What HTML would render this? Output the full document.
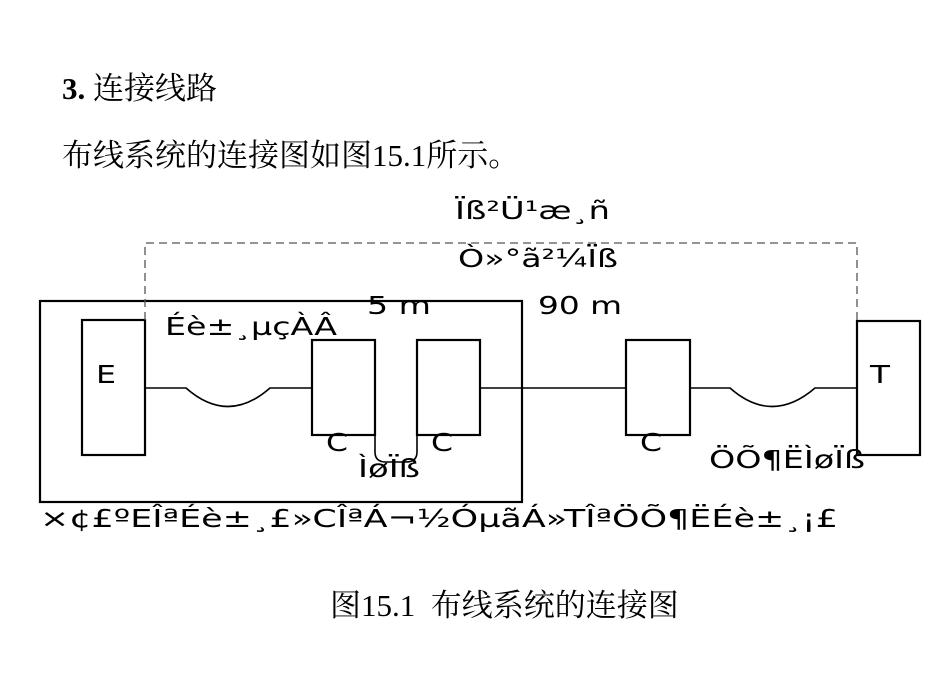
<!DOCTYPE html>
<html><head><meta charset="utf-8"><style>
html,body{margin:0;padding:0;background:#fff;width:950px;height:700px;overflow:hidden}
.t{position:absolute;font-family:"Liberation Serif","Noto Serif CJK SC",serif;font-size:31px;color:#000;white-space:nowrap;line-height:1}
svg text{font-family:"DejaVu Sans","Liberation Sans",sans-serif;font-size:25px}
</style></head><body>
<div class="t" style="left:62px;top:73px"><b>3.</b> 连接线路</div>
<div class="t" style="left:62px;top:140px">布线系统的连接图如图15.1所示。</div>
<div class="t" style="left:330px;top:590px;font-size:31px">图15.1&nbsp; 布线系统的连接图</div>
<svg width="950" height="700" style="position:absolute;left:0;top:0">
<g fill="none" stroke="#000" stroke-width="2.2">
<rect x="40" y="301" width="482" height="201"/>
<rect x="82" y="320" width="63" height="135"/>
<rect x="312" y="340" width="63" height="95"/>
<rect x="417" y="340" width="63" height="95"/>
<rect x="626" y="340" width="64" height="95"/>
<rect x="857" y="321" width="63" height="134"/>
</g>
<g fill="none" stroke="#000" stroke-width="1.6">
<path d="M145 388 H186 Q228 425 270 388 H312"/>
<path d="M480 388 H626"/>
<path d="M690 388 H730 Q772 425 815 388 H857"/>
<path d="M375 435 V452 Q375 462 386 462 H406 Q417 462 417 452 V435"/>
</g>
<path d="M145 320 V243 H857 V320" fill="none" stroke="#555" stroke-width="1.3" stroke-dasharray="8,5"/>
<g fill="#000">
<text x="96" y="383" textLength="20" lengthAdjust="spacingAndGlyphs">E</text>
<text x="870" y="383" textLength="20" lengthAdjust="spacingAndGlyphs">T</text>
<text x="326" y="451" textLength="22" lengthAdjust="spacingAndGlyphs">C</text>
<text x="431" y="451" textLength="22" lengthAdjust="spacingAndGlyphs">C</text>
<text x="640" y="451" textLength="22" lengthAdjust="spacingAndGlyphs">C</text>
<text x="455" y="219" textLength="155" lengthAdjust="spacingAndGlyphs">Ïß²Ü¹æ¸ñ</text>
<text x="458" y="267" textLength="160" lengthAdjust="spacingAndGlyphs">Ò»°ã²¼Ïß</text>
<text x="367" y="314" textLength="64" lengthAdjust="spacingAndGlyphs">5 m</text>
<text x="538" y="314" textLength="84" lengthAdjust="spacingAndGlyphs">90 m</text>
<text x="165" y="335" textLength="172" lengthAdjust="spacingAndGlyphs">Éè±¸µçÀÂ</text>
<text x="358" y="477" textLength="62" lengthAdjust="spacingAndGlyphs">ÌøÏß</text>
<text x="709" y="468" textLength="156" lengthAdjust="spacingAndGlyphs">ÖÕ¶ËÌøÏß</text>
<text x="40" y="527" textLength="798" lengthAdjust="spacingAndGlyphs">×¢£ºEÎªÉè±¸£»CÎªÁ¬½ÓµãÁ»TÎªÖÕ¶ËÉè±¸¡£</text>
</g>
</svg>
</body></html>
